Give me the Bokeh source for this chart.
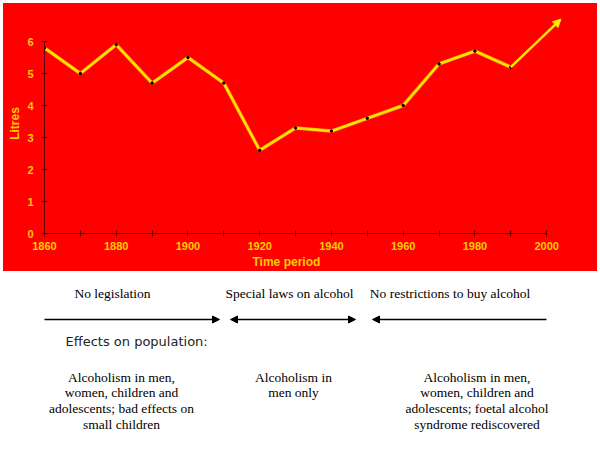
from bokeh.plotting import figure
from bokeh.models import Range1d, FixedTicker, Arrow, NormalHead, ColumnDataSource, Title
from bokeh.layouts import column
from bokeh.embed import file_html
from bokeh.resources import INLINE
from bokeh.core.properties import value

# ---- data ----
years = [1860, 1870, 1880, 1890, 1900, 1910, 1920, 1930, 1940, 1950, 1960, 1970, 1980, 1990]
litres = [5.8, 5.0, 5.9, 4.7, 5.5, 4.7, 2.6, 3.3, 3.2, 3.6, 4.0, 5.3, 5.7, 5.2]
trend_end_year = 2004
trend_end_litres = 6.7
x_tick_labels = [1860, 1880, 1900, 1920, 1940, 1960, 1980, 2000]
x_minor = [1870, 1890, 1910, 1930, 1950, 1970, 1990]
y_ticks = [0, 1, 2, 3, 4, 5, 6]

periods = ["No legislation", "Special laws on alcohol", "No restrictions to buy alcohol"]
effects_title = "Effects on population:"
effects = [
    ["Alcoholism in men,", "women, children and", "adolescents; bad effects on", "small children"],
    ["Alcoholism in", "men only"],
    ["Alcoholism in men,", "women, children and", "adolescents; foetal alcohol", "syndrome rediscovered"],
]

RED = "#FF0000"
GOLD = "#FFCC00"
YEL = "#FFE600"
AX = "#5A0000"

BL, BR = 41, 15   # shared horizontal borders so both frames line up

# ---- chart ----
p = figure(width=594, height=268, x_range=Range1d(1860, 2010), y_range=Range1d(0, 6.875),
           output_backend="svg", toolbar_location=None, margin=(3, 3, 0, 3),
           min_border_left=BL, min_border_right=BR, min_border_top=10, min_border_bottom=38)
p.background_fill_color = RED
p.border_fill_color = RED
p.styles = {"background-color": RED}
p.outline_line_color = RED
p.outline_line_width = 2
p.xgrid.visible = False
p.ygrid.visible = False

p.xaxis.ticker = FixedTicker(ticks=x_tick_labels, minor_ticks=x_minor)
p.yaxis.ticker = FixedTicker(ticks=y_ticks)
p.xaxis.bounds = (1860, 2000)
p.yaxis.bounds = (0, 6)
for ax in (p.xaxis, p.yaxis):
    ax.axis_line_color = AX
    ax.axis_line_width = 1
    ax.major_tick_line_color = AX
    ax.minor_tick_line_color = AX
    ax.major_tick_in = 3
    ax.major_tick_out = 3
    ax.minor_tick_in = 3
    ax.minor_tick_out = 3
    ax.major_label_text_color = GOLD
    ax.major_label_text_font = "Liberation Sans"
    ax.major_label_text_font_style = "bold"
    ax.major_label_text_font_size = "11px"
p.xaxis.major_label_standoff = 5
p.yaxis.major_label_standoff = 8
p.yaxis.axis_label = "Litres"
p.yaxis.axis_label_standoff = 2
p.yaxis.axis_label_text_color = GOLD
p.yaxis.axis_label_text_font = "Liberation Sans"
p.yaxis.axis_label_text_font_style = "bold"
p.yaxis.axis_label_text_font_size = "12px"

p.add_layout(Title(text="Time period", align="left", offset=208, standoff=0,
                   text_color=GOLD, text_font="Liberation Sans", text_font_style="bold",
                   text_font_size="12px"), "below")

src = ColumnDataSource(dict(x=years, y=litres))
p.line("x", "y", source=src, line_color="#FF9900", line_width=3.5)
p.line("x", "y", source=src, line_color=YEL, line_width=2.2)
p.add_layout(Arrow(x_start=years[-1], y_start=litres[-1], x_end=trend_end_year, y_end=trend_end_litres,
                   line_color=YEL, line_width=2.5,
                   end=NormalHead(size=8, fill_color=YEL, line_color=YEL)))
p.scatter("x", "y", source=src, size=2.5, color="black")

# ---- text panel (x/y in page pixels; frame spans page x 44..582) ----
q = figure(width=594, height=179, x_range=Range1d(44, 582), y_range=Range1d(450, 271),
           output_backend="svg", toolbar_location=None, margin=(0, 3, 0, 3),
           min_border_left=BL, min_border_right=BR, min_border_top=0, min_border_bottom=0)
q.xaxis.visible = False
q.yaxis.visible = False
q.grid.visible = False
q.outline_line_color = None
q.background_fill_color = "white"
q.border_fill_color = "white"

serif = value("Liberation Serif")
q.text(x=[112, 289, 449.5], y=[293, 293, 293], text=periods, text_font=serif,
       text_font_size="13.5px", text_align="center", text_baseline="middle", text_color="black")

arr_y = 319
q.add_layout(Arrow(x_start=40, y_start=arr_y, x_end=219, y_end=arr_y, line_width=1.5, line_color="black",
                   end=NormalHead(size=7, fill_color="black", line_color="black")))
q.add_layout(Arrow(x_start=230, y_start=arr_y, x_end=355, y_end=arr_y, line_width=1.5, line_color="black",
                   start=NormalHead(size=7, fill_color="black", line_color="black"),
                   end=NormalHead(size=7, fill_color="black", line_color="black")))
q.add_layout(Arrow(x_start=546, y_start=arr_y, x_end=372, y_end=arr_y, line_width=1.5, line_color="black",
                   end=NormalHead(size=7, fill_color="black", line_color="black")))

q.text(x=[65], y=[341], text=[effects_title], text_font=value("DejaVu Sans"),
       text_font_size="13px", text_align="left", text_baseline="middle", text_color="#222222")

centers = [121, 293, 476.5]
line_ys = [376.5, 392.2, 408, 424]
for cx, lines in zip(centers, effects):
    q.text(x=[cx] * len(lines), y=line_ys[:len(lines)], text=lines, text_font=serif,
           text_font_size="13.5px", text_align="center", text_baseline="middle", text_color="black")

layout = column(p, q, spacing=0)
open("out.html", "w").write(file_html(layout, INLINE))
